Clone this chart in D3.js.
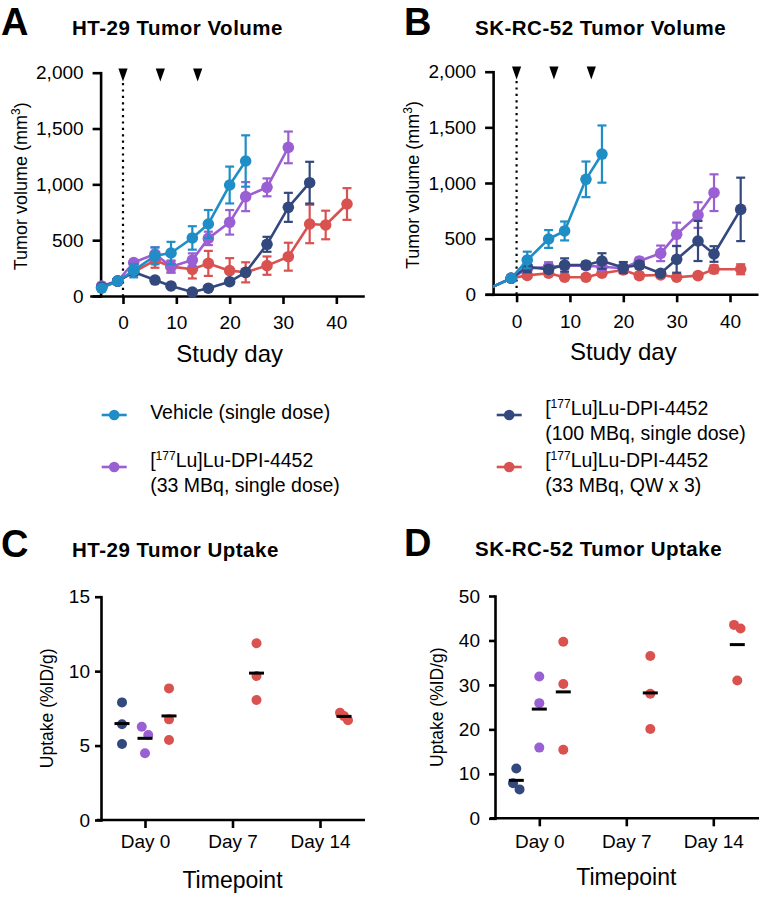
<!DOCTYPE html>
<html><head><meta charset="utf-8">
<script src="https://cdn.jsdelivr.net/npm/d3@7"></script>
<style>
body{margin:0;background:#fff}
svg{display:block}
text{font-family:"Liberation Sans",Arial,Helvetica,sans-serif;fill:#000}
</style>
</head><body>
<svg id="chart" width="759" height="898"></svg>
<script>
// ---------------- DATA ----------------
const doseDays = [0, 7, 14];
const volumeTicks = [0, 500, 1000, 1500, 2000];
const dayTicks = [0, 10, 20, 30, 40];
const timepoints = ["Day 0", "Day 7", "Day 14"];
const htUptakeTicks = [0, 5, 10, 15];
const skUptakeTicks = [0, 10, 20, 30, 40, 50];

const seriesKeys = ["vehicle", "lu33", "lu100", "lu33qw"];
const seriesColors = {vehicle: "#1f8ec6", lu33: "#9a5fd2", lu100: "#33487c", lu33qw: "#d9524f"};

// HT-29 tumor volume (mm3), mean and SEM
const htVehicleDays = [-4, -1, 2, 6, 9, 13, 16, 20, 23];
const htVehicleMean = [70, 134, 227, 360, 385, 520, 645, 994, 1209];
const htVehicleSem  = [20, 15, 60, 75, 100, 105, 125, 165, 230];

const htLu33Days = [-4, -1, 2, 6, 9, 13, 16, 20, 23, 27, 31];
const htLu33Mean = [90, 134, 300, 376, 263, 322, 516, 660, 890, 973, 1331];
const htLu33Sem  = [15, 15, 20, 60, 55, 60, 60, 110, 130, 80, 142];

const htLu100Days = [-4, -1, 2, 6, 9, 13, 16, 20, 23, 27, 31, 35];
const htLu100Mean = [78, 134, 215, 143, 90, 35, 70, 128, 212, 463, 794, 1015];
const htLu100Sem  = [15, 15, 25, 20, 15, 15, 15, 20, 20, 67, 130, 187];

const htLu33qwDays = [-4, -1, 2, 6, 9, 13, 16, 20, 23, 27, 31, 35, 38, 42];
const htLu33qwMean = [80, 134, 215, 320, 263, 239, 292, 227, 212, 272, 352, 645, 636, 824];
const htLu33qwSem  = [15, 15, 25, 67, 50, 82, 112, 112, 90, 82, 125, 172, 128, 142];

// SK-RC-52 tumor volume (mm3), mean and SEM
const skVehicleDays = [-6, -1, 2, 6, 9, 13, 16];
const skVehicleMean = [35, 144, 308, 497, 569, 1033, 1260];
const skVehicleSem  = [10, 15, 75, 80, 85, 160, 257];

const skLu33Days = [-6, -1, 2, 6, 9, 13, 16, 20, 23, 27, 30, 34, 37];
const skLu33Mean = [35, 144, 230, 248, 257, 257, 248, 234, 299, 368, 539, 712, 913];
const skLu33Sem  = [10, 15, 30, 40, 30, 30, 30, 30, 30, 70, 105, 115, 165];

const skLu100Days = [-6, -1, 2, 6, 9, 13, 16, 20, 23, 27, 30, 34, 37, 42];
const skLu100Mean = [35, 144, 248, 224, 263, 263, 299, 240, 263, 189, 314, 479, 362, 763];
const skLu100Sem  = [10, 15, 50, 30, 60, 30, 70, 50, 30, 20, 120, 180, 70, 285];

const skLu33qwDays = [-6, -1, 2, 6, 9, 13, 16, 20, 23, 27, 30, 34, 37, 42];
const skLu33qwMean = [35, 144, 170, 189, 153, 153, 189, 219, 168, 174, 153, 168, 225, 225];
const skLu33qwSem  = [10, 15, 20, 20, 20, 20, 20, 20, 25, 20, 15, 20, 35, 45];

// Tumor uptake (%ID/g), individual animals
const htUptakeLu100Day0 = [7.9, 6.43, 5.1];
const htUptakeLu33Day0  = [6.27, 5.71, 4.48];
const htUptakeQwDay0    = [8.84, 6.76, 5.37];
const htUptakeQwDay7    = [11.87, 9.67, 8.06];
const htUptakeQwDay14   = [7.2, 6.98, 6.7];

const skUptakeLu100Day0 = [11.2, 7.9, 6.5];
const skUptakeLu33Day0  = [31.9, 25.9, 15.9];
const skUptakeQwDay0    = [39.7, 30.2, 15.4];
const skUptakeQwDay7    = [36.5, 28.0, 20.1];
const skUptakeQwDay14   = [43.5, 42.7, 31.0];

const legendLine1 = ["Vehicle (single dose)", "[177Lu]Lu-DPI-4452", "[177Lu]Lu-DPI-4452", "[177Lu]Lu-DPI-4452"];
const legendLine2 = ["", "(33 MBq, single dose)", "(100 MBq, single dose)", "(33 MBq, QW x 3)"];

// ---------------- DRAWING ----------------
const svg = d3.select("#chart");
const AX_W = 2.6;

function styleAxis(sel, fs) {
  sel.select(".domain").attr("stroke", "#000").attr("stroke-width", AX_W).attr("stroke-linecap", "square");
  sel.selectAll(".tick line").attr("stroke", "#000").attr("stroke-width", AX_W);
  sel.selectAll(".tick text").attr("font-size", fs).attr("fill", "#000")
     .style("font-family", '"Liberation Sans", Arial, sans-serif');
}

// text with "177" superscript
function richText(sel, str, fs, supFs) {
  const m = str.match(/^\[(\d+)(.*)$/);
  if (m) {
    sel.append("tspan").text("[");
    sel.append("tspan").text(m[1]).attr("font-size", supFs).attr("dy", -fs * 0.36);
    sel.append("tspan").text(m[2]).attr("dy", fs * 0.36);
  } else sel.text(str);
}

function headers(letter, lx, title, tx, ty) {
  svg.append("text").attr("x", lx).attr("y", ty).attr("font-size", 38).attr("font-weight", "bold").text(letter);
  svg.append("text").attr("x", tx).attr("y", ty).attr("font-size", 20.5).attr("font-weight", "bold")
     .attr("letter-spacing", 0.5).text(title);
}

function volumePanel(o) {
  const g = svg.append("g");
  const x = d3.scaleLinear().domain(o.xDomain).range(o.xRange);
  const y = d3.scaleLinear().domain([0, 2000]).range(o.yRange);
  const axX = x(o.yAxisDay);
  const cid = "clip" + o.letter;
  svg.append("clipPath").attr("id", cid).append("rect")
     .attr("x", axX).attr("y", 0).attr("width", o.xRange[1] - axX + 30).attr("height", o.yRange[0]);

  headers(o.letter, o.letterX, o.title, o.titleX, o.titleY);

  // dosing arrowheads
  g.selectAll("path.dose").data(doseDays).join("path")
   .attr("transform", d => `translate(${x(d)},${o.triY})`)
   .attr("d", "M-4.6,-6.5L4.6,-6.5L0,6.5Z").attr("fill", "#000");
  // dotted line at day 0
  g.append("line").attr("x1", x(0)).attr("x2", x(0)).attr("y1", o.triY + 8).attr("y2", o.yRange[0])
   .attr("stroke", "#000").attr("stroke-width", 2.2).attr("stroke-dasharray", "2.2,4.2");

  // axes
  const ya = g.append("g").attr("transform", `translate(${axX},0)`)
    .call(d3.axisLeft(y).tickValues(volumeTicks).tickFormat(d3.format(",")).tickSize(8).tickSizeOuter(0).tickPadding(9));
  styleAxis(ya, 19);
  const xa = g.append("g").attr("transform", `translate(0,${o.yRange[0]})`)
    .call(d3.axisBottom(x).tickValues(dayTicks).tickSize(8).tickSizeOuter(0).tickPadding(12));
  styleAxis(xa, 19);

  // axis titles
  const yl = g.append("text").attr("transform", `translate(${axX - 74},${(o.yRange[0] + o.yRange[1]) / 2 + 2}) rotate(-90)`)
    .attr("text-anchor", "middle").attr("font-size", 18);
  yl.append("tspan").text("Tumor volume (mm");
  yl.append("tspan").text("3").attr("font-size", 12).attr("dy", -7);
  yl.append("tspan").text(")").attr("dy", 7);
  g.append("text").attr("x", (x(0) + x(40)) / 2 + 0).attr("y", o.yRange[0] + 66)
   .attr("text-anchor", "middle").attr("font-size", 24).text("Study day");

  // series
  const plot = g.append("g");
  o.series.forEach(s => {
    const pts = s.days.map((d, i) => ({d, m: s.mean[i], e: s.sem[i]}));
    const col = seriesColors[s.key];
    const sg = plot.append("g");
    sg.append("path").datum(pts).attr("clip-path", `url(#${cid})`)
      .attr("fill", "none").attr("stroke", col).attr("stroke-width", 2.6).attr("stroke-linejoin", "round")
      .attr("d", d3.line().x(p => x(p.d)).y(p => y(p.m)));
    const vis = pts.filter(p => p.d >= o.yAxisDay - 0.3);
    const eb = sg.selectAll("g.eb").data(vis).join("g").attr("class", "eb");
    eb.append("line").attr("x1", p => x(p.d)).attr("x2", p => x(p.d))
      .attr("y1", p => y(p.m - p.e)).attr("y2", p => y(p.m + p.e)).attr("stroke", col).attr("stroke-width", 2.2);
    [1, -1].forEach(sgn => {
      eb.append("line").attr("x1", p => x(p.d) - 4.5).attr("x2", p => x(p.d) + 4.5)
        .attr("y1", p => y(p.m + sgn * p.e)).attr("y2", p => y(p.m + sgn * p.e))
        .attr("stroke", col).attr("stroke-width", 2.2);
    });
    sg.selectAll("circle").data(vis).join("circle")
      .attr("cx", p => x(p.d)).attr("cy", p => y(p.m)).attr("r", 5.8).attr("fill", col);
  });
}

volumePanel({
  letter: "A", letterX: 1, title: "HT-29 Tumor Volume", titleX: 72, titleY: 35,
  xDomain: [-6, 45], xRange: [91, 363], yAxisDay: -4.2, yRange: [296, 72.7], triY: 75,
  series: [
    {key: "lu33qw", days: htLu33qwDays, mean: htLu33qwMean, sem: htLu33qwSem},
    {key: "lu33", days: htLu33Days, mean: htLu33Mean, sem: htLu33Sem},
    {key: "lu100", days: htLu100Days, mean: htLu100Mean, sem: htLu100Sem},
    {key: "vehicle", days: htVehicleDays, mean: htVehicleMean, sem: htVehicleSem}
  ]
});
volumePanel({
  letter: "B", letterX: 404, title: "SK-RC-52 Tumor Volume", titleX: 475, titleY: 35,
  xDomain: [-5.6, 45], xRange: [486.7, 756.7], yAxisDay: -4.4, yRange: [294.3, 71.7], triY: 73,
  series: [
    {key: "lu33qw", days: skLu33qwDays, mean: skLu33qwMean, sem: skLu33qwSem},
    {key: "lu33", days: skLu33Days, mean: skLu33Mean, sem: skLu33Sem},
    {key: "lu100", days: skLu100Days, mean: skLu100Mean, sem: skLu100Sem},
    {key: "vehicle", days: skVehicleDays, mean: skVehicleMean, sem: skVehicleSem}
  ]
});

// legend
const legendCols = [101.7, 496.7], legendRows = [415, 467];
const legendPos = {vehicle: [0, 0], lu33: [0, 1], lu100: [1, 0], lu33qw: [1, 1]};
seriesKeys.forEach((k, i) => {
  const [c, r] = legendPos[k];
  const lx = legendCols[c], ly = legendRows[r], col = seriesColors[k];
  const lg = svg.append("g");
  lg.append("line").attr("x1", lx).attr("x2", lx + 25).attr("y1", ly).attr("y2", ly).attr("stroke", col).attr("stroke-width", 2.6);
  lg.append("circle").attr("cx", lx + 12.5).attr("cy", ly).attr("r", 5.3).attr("fill", col);
  const two = legendLine2[i] !== "";
  const t1 = lg.append("text").attr("x", lx + 48.5).attr("y", two ? ly : ly + 4).attr("font-size", 19.5);
  richText(t1, legendLine1[i], 19.5, 12);
  if (two) lg.append("text").attr("x", lx + 48.5).attr("y", ly + 24.5).attr("font-size", 19.5).text(legendLine2[i]);
});

// uptake panels
function uptakePanel(o) {
  const g = svg.append("g");
  headers(o.letter, o.letterX, o.title, o.titleX, o.titleY);
  const x = d3.scalePoint().domain(timepoints).range(o.catRange);
  const y = d3.scaleLinear().domain([0, o.yMax]).range(o.yRange);
  const ya = g.append("g").attr("transform", `translate(${o.axX},0)`)
    .call(d3.axisLeft(y).tickValues(o.ticks).tickSize(6).tickSizeOuter(0).tickPadding(o.yPad));
  styleAxis(ya, 19);
  const xa = g.append("g").attr("transform", `translate(0,${o.yRange[0]})`)
    .call(d3.axisBottom(x).tickSize(8).tickSizeOuter(0).tickPadding(o.xPad));
  xa.select(".domain").remove();
  styleAxis(xa, 19);
  g.append("line").attr("x1", o.xLine[0]).attr("x2", o.xLine[1]).attr("y1", o.yRange[0]).attr("y2", o.yRange[0])
   .attr("stroke", "#000").attr("stroke-width", AX_W);
  g.append("text").attr("transform", `translate(${o.axX - o.ylOff},${(o.yRange[0] + o.yRange[1]) / 2}) rotate(-90)`)
   .attr("text-anchor", "middle").attr("font-size", 17.5).text("Uptake (%ID/g)");
  g.append("text").attr("x", x("Day 7")).attr("y", o.yRange[0] + o.xlOff).attr("text-anchor", "middle")
   .attr("font-size", 23).text("Timepoint");

  const offsets = {lu100: -23, lu33: 0, lu33qw: 24};
  o.groups.forEach(gr => {
    const cx = x(gr.time) + offsets[gr.key];
    const col = seriesColors[gr.key];
    const vals = gr.values.slice().sort((a, b) => b - a);
    // cluster overlapping dots and spread them horizontally
    const clusters = [];
    vals.forEach(v => {
      const last = clusters[clusters.length - 1];
      if (last && Math.abs(y(last[last.length - 1]) - y(v)) < 9) last.push(v); else clusters.push([v]);
    });
    const pts = [];
    clusters.forEach(cl => {
      const sp = cl.length > 1 ? Math.min(6.5, 8 / (cl.length - 1)) : 0;
      cl.forEach((v, i) => pts.push({v, dx: (i - (cl.length - 1) / 2) * sp}));
    });
    g.selectAll(null).data(pts).join("circle")
     .attr("cx", p => cx + p.dx).attr("cy", p => y(p.v)).attr("r", 5).attr("fill", col);
    const mean = d3.mean(gr.values);
    g.append("line").attr("x1", cx - 7.5).attr("x2", cx + 7.5).attr("y1", y(mean)).attr("y2", y(mean))
     .attr("stroke", "#000").attr("stroke-width", 3);
  });
}

uptakePanel({
  letter: "C", letterX: 1, title: "HT-29 Tumor Uptake", titleX: 72, titleY: 557,
  catRange: [145, 320], yMax: 15, yRange: [820, 596.7], axX: 101, ticks: htUptakeTicks,
  xLine: [96.7, 365], yPad: 5, xPad: 6.5, ylOff: 48.5, xlOff: 68,
  groups: [
    {time: "Day 0", key: "lu100", values: htUptakeLu100Day0},
    {time: "Day 0", key: "lu33", values: htUptakeLu33Day0},
    {time: "Day 0", key: "lu33qw", values: htUptakeQwDay0},
    {time: "Day 7", key: "lu33qw", values: htUptakeQwDay7},
    {time: "Day 14", key: "lu33qw", values: htUptakeQwDay14}
  ]
});
uptakePanel({
  letter: "D", letterX: 404, title: "SK-RC-52 Tumor Uptake", titleX: 475, titleY: 556,
  catRange: [539.3, 713.3], yMax: 50, yRange: [818.3, 596], axX: 495, ticks: skUptakeTicks,
  xLine: [490, 765], yPad: 9, xPad: 8, ylOff: 52, xlOff: 67,
  groups: [
    {time: "Day 0", key: "lu100", values: skUptakeLu100Day0},
    {time: "Day 0", key: "lu33", values: skUptakeLu33Day0},
    {time: "Day 0", key: "lu33qw", values: skUptakeQwDay0},
    {time: "Day 7", key: "lu33qw", values: skUptakeQwDay7},
    {time: "Day 14", key: "lu33qw", values: skUptakeQwDay14}
  ]
});
</script>
</body></html>
